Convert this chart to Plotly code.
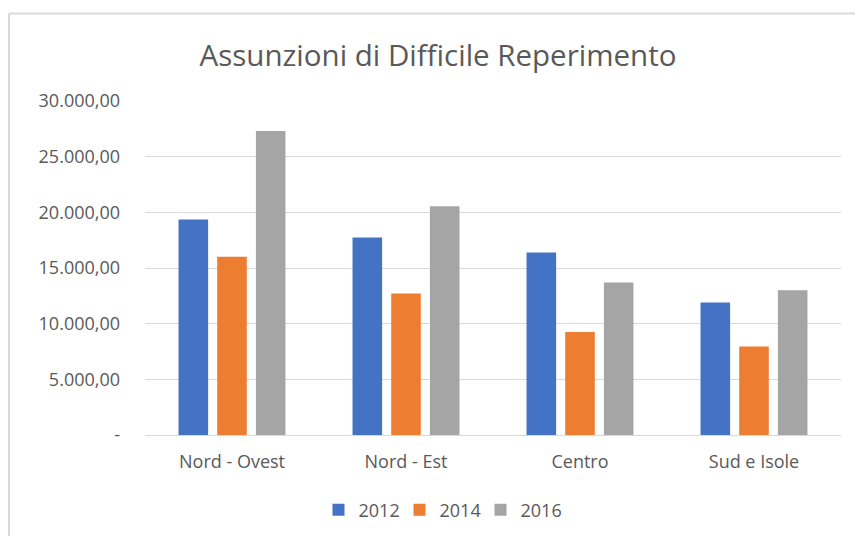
import plotly.graph_objects as go

categories = ["Nord - Ovest", "Nord - Est", "Centro", "Sud e Isole"]
series_names = ["2012", "2014", "2016"]
values_2012 = [19350, 17750, 16400, 11900]
values_2014 = [16000, 12700, 9250, 7950]
values_2016 = [27300, 20550, 13700, 13000]
colors = ["#4472C4", "#ED7D31", "#A5A5A5"]
tick_vals = [0, 5000, 10000, 15000, 20000, 25000, 30000]
tick_text = ["-", "5.000,00", "10.000,00", "15.000,00", "20.000,00", "25.000,00", "30.000,00"]

W, H = 855, 536
L, R, T, B = 145, 14, 101, 101
pw, ph = W - L - R, H - T - B

def px_x(x):
    return (x - L) / pw

def px_y(y):
    return 1 - (y - T) / ph

FONT = "Open Sans"
fig = go.Figure()
for name, vals, col in zip(series_names, [values_2012, values_2014, values_2016], colors):
    fig.add_trace(go.Bar(name=name, x=categories, y=vals, marker=dict(color=col, line=dict(width=0))))

fig.update_layout(
    width=W, height=H,
    margin=dict(l=L, r=R, t=T, b=B, autoexpand=False),
    paper_bgcolor="white", plot_bgcolor="white",
    barmode="group", bargap=0.333, bargroupgap=0.235,
    font=dict(family=FONT, color="#595959", size=18),
    title=dict(text="Assunzioni di Difficile Reperimento", x=438 / W, xanchor="center",
               xref="container", y=1 - 56 / H, yanchor="middle", yref="container",
               font=dict(family=FONT, size=29.5, color="#595959")),
    legend=dict(orientation="h", x=px_x(440), xanchor="center", y=px_y(510), yanchor="middle",
                font=dict(family=FONT, size=18, color="#595959"), itemwidth=30,
                entrywidth=36, entrywidthmode="pixels", traceorder="normal"),
    showlegend=True,
)
fig.update_xaxes(showgrid=False, showline=True, linecolor="#d9d9d9", linewidth=1,
                 tickfont=dict(family=FONT, size=18, color="#595959"), ticks="", ticklabelstandoff=10)
fig.update_yaxes(range=[0, 30000], tickvals=tick_vals, ticktext=tick_text, showgrid=True,
                 gridcolor="#d9d9d9", gridwidth=1, zeroline=False, showline=False,
                 tickfont=dict(family=FONT, size=18, color="#595959"), ticks="", ticklabelstandoff=24)

# outer chart frame (left and top edges visible in the reference)
fig.add_shape(type="line", xref="paper", yref="paper", x0=px_x(9), x1=px_x(9), y0=px_y(540), y1=px_y(13.5),
              line=dict(color="#d9d9d9", width=2))
fig.add_shape(type="line", xref="paper", yref="paper", x0=px_x(9), x1=px_x(860), y0=px_y(13.5), y1=px_y(13.5),
              line=dict(color="#d9d9d9", width=2))

fig.write_html("out.html", config={"displayModeBar": False},
               post_script="document.body.style.margin='0';")
